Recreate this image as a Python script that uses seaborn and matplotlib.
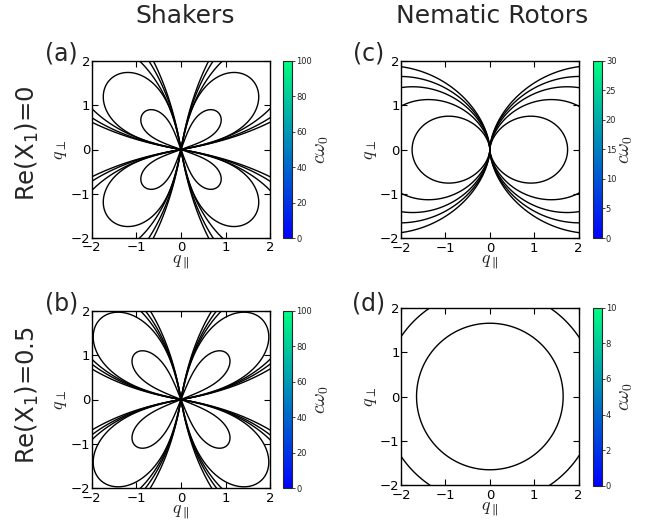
import numpy as np
import matplotlib
matplotlib.use("Agg")
import matplotlib.pyplot as plt
import seaborn as sns
from matplotlib.colors import Normalize
from matplotlib.cm import ScalarMappable

# ---------------- data ----------------
panel_tags = ["(a)", "(b)", "(c)", "(d)"]
column_titles = ["Shakers", "Nematic Rotors"]
row_titles = ["Re(X$_\\mathregular{1}$)=0", "Re(X$_\\mathregular{1}$)=0.5"]
axis_ticks = [-2, -1, 0, 1, 2]

# shakers: each contour line is a four-leaf curve with a reach along the
# diagonal, an entry angle at the origin (deg) and a fullness exponent
shaker_a_reach = [1.18, 2.24, 3.23, 4.21, 5.25]
shaker_a_entry = [20, 12, 10, 10, 10]
shaker_a_full = [0.35, 0.45, 0.8, 0.8, 0.8]
shaker_b_reach = [1.46, 2.56, 3.28, 3.72, 4.45]
shaker_b_entry = [22, 12, 10, 10, 10]
shaker_b_full = [0.4, 0.55, 0.8, 0.8, 0.8]
# nematic rotors: contour lines r = reach * |cos θ|^1.5, and circles
rotor_c_reach = [1.75, 2.62, 3.29, 3.83, 4.39]
rotor_c_shape = [1.5, 1.5, 1.5, 1.5, 1.5]
rotor_d_radius = [1.65, 2.41]

cbar_max = [100, 100, 30, 10]
cbar_step = [20, 20, 5, 2]

# ---------------- style ----------------
sns.set_style("ticks")
plt.rcParams["font.family"] = ["DejaVu Sans"]
plt.rcParams["mathtext.fontset"] = "dejavusans"
cmap = sns.color_palette("winter", as_cmap=True)

W, H = 657, 527
fig = plt.figure(figsize=(W / 100, H / 100), dpi=100)


def box(l, r, t, b):
    return [l / W, 1 - b / H, (r - l) / W, (b - t) / H]


ax_boxes = [box(91.7, 270.3, 61, 238), box(91.7, 270.3, 310.7, 488.3),
            box(401, 578.7, 61, 238.3), box(401, 578.7, 307.7, 485.3)]
cb_boxes = [box(283.3, 292.3, 60.5, 238.3), box(283.3, 292.3, 310.7, 488.3),
            box(592.7, 601.7, 60.7, 238), box(592.7, 601.7, 307.7, 485.7)]

# polar sampling grid (fine near the origin where the lines meet)
rr = np.geomspace(1e-4, 3.2, 900)
tt = np.linspace(-np.pi, np.pi, 2881)
RR, TT = np.meshgrid(rr, tt)
X = RR * np.cos(TT)
Y = RR * np.sin(TT)
PHI = np.mod(TT, np.pi / 2)


def draw_leaves(ax, reach, entry, full):
    for k, e, p in zip(reach, entry, full):
        t0 = np.deg2rad(e)
        s = np.clip(np.sin(np.pi * (PHI - t0) / (np.pi / 2 - 2 * t0)), 0, None)
        G = s ** p / RR
        ax.contour(X, Y, G, levels=[1.0 / k], colors="black", linewidths=1.0)


def draw_rotor(ax, reach, shape):
    for k, p in zip(reach, shape):
        G = np.abs(np.cos(TT)) ** p / RR
        ax.contour(X, Y, G, levels=[1.0 / k], colors="black", linewidths=1.0)


axes = [fig.add_axes(b) for b in ax_boxes]
draw_leaves(axes[0], shaker_a_reach, shaker_a_entry, shaker_a_full)
draw_leaves(axes[1], shaker_b_reach, shaker_b_entry, shaker_b_full)
draw_rotor(axes[2], rotor_c_reach, rotor_c_shape)
axes[3].contour(X, Y, RR, levels=rotor_d_radius, colors="black", linewidths=1.0)

for i, ax in enumerate(axes):
    ax.set_xlim(-2, 2)
    ax.set_ylim(-2, 2)
    ax.set_xticks(axis_ticks)
    ax.set_yticks(axis_ticks)
    ax.tick_params(direction="in", top=True, right=True, length=4, width=0.8,
                   labelsize=9.5, colors="black")
    ax.tick_params(axis="x", pad=2.5)
    ax.tick_params(axis="y", pad=1)
    for s in ax.spines.values():
        s.set_linewidth(1.0)
        s.set_color("black")
    ax.set_xlabel(r"$q_\parallel$", fontsize=13, labelpad=-1, math_fontfamily="cm")
    ax.set_ylabel(r"$q_\perp$", fontsize=13, labelpad=1, math_fontfamily="cm")

    cax = fig.add_axes(cb_boxes[i])
    sm = ScalarMappable(norm=Normalize(0, cbar_max[i]), cmap=cmap)
    cb = fig.colorbar(sm, cax=cax)
    cb.set_ticks(np.arange(0, cbar_max[i] + 0.1, cbar_step[i]))
    cb.ax.tick_params(labelsize=6, length=2, width=0.6, pad=1, colors="#222222")
    cb.outline.set_linewidth(0.8)
    cb.set_label(r"$c\omega_0$", fontsize=14, labelpad=0, math_fontfamily="cm")

# panel tags
tag_pos = [(78, 60), (78, 311), (384, 61), (385, 311)]
for tag, (x, y) in zip(panel_tags, tag_pos):
    fig.text(x / W, 1 - y / H, tag, ha="right", va="baseline", fontsize=17)

# column titles
fig.text(185 / W, 1 - 22.7 / H, column_titles[0], ha="center", va="baseline", fontsize=18)
fig.text(491.7 / W, 1 - 22.7 / H, column_titles[1], ha="center", va="baseline", fontsize=18)

# row titles
fig.text(27 / W, 1 - 143 / H, row_titles[0], rotation=90, ha="center", va="center", fontsize=17.5)
fig.text(27 / W, 1 - 395 / H, row_titles[1], rotation=90, ha="center", va="center", fontsize=17.5)

fig.savefig("out.png", dpi=100)
